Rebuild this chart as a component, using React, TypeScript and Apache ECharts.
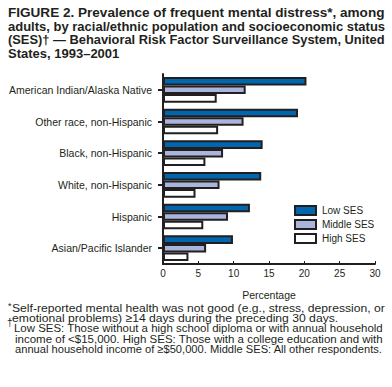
import React, { useEffect, useRef } from "react";
import * as echarts from "echarts";

const categories = [
  "American Indian/Alaska Native",
  "Other race, non-Hispanic",
  "Black, non-Hispanic",
  "White, non-Hispanic",
  "Hispanic",
  "Asian/Pacific Islander",
];
const lowSES = [20.3, 19.1, 14.1, 13.9, 12.3, 9.9];
const middleSES = [11.7, 11.4, 8.5, 8.0, 9.2, 6.1];
const highSES = [7.6, 7.8, 6.0, 4.6, 5.7, 3.6];
const seriesNames = ["Low SES", "Middle SES", "High SES"];
const xTicks = [0, 5, 10, 15, 20, 25, 30];

const titleLines = [
  "FIGURE 2. Prevalence of frequent mental distress*, among",
  "adults, by racial/ethnic population and socioeconomic status",
  "(SES)\u2020 \u2014 Behavioral Risk Factor Surveillance System, United",
  "States, 1993\u20132001",
];
const footLines = [
  "Self-reported mental health was not good (e.g., stress, depression, or",
  "emotional problems) \u226514 days during the preceding 30 days.",
  "Low SES: Those without a high school diploma or with annual household",
  "income of <$15,000. High SES: Those with a college education and with",
  "annual household income of \u2265$50,000. Middle SES: All other respondents.",
];

const INK = "#231f20";
const FONT = "'Liberation Sans', Arial, Helvetica, sans-serif";

function measure(text: string, font: string): number {
  const c = document.createElement("canvas").getContext("2d");
  if (!c) return text.length * 6;
  c.font = font;
  return c.measureText(text).width;
}

function lineEl(
  text: string,
  x: number,
  y: number,
  size: number,
  weight: string,
  target: number | null
) {
  const font = `${weight} ${size}px ${FONT}`;
  const w = measure(text, font);
  const sx = target ? target / w : 1;
  return {
    type: "text",
    x,
    y,
    scaleX: sx,
    style: {
      text,
      x: 0,
      y: 0,
      fill: INK,
      font,
      textVerticalAlign: "middle",
      textAlign: "left",
    },
  };
}

export default function App() {
  const ref = useRef<HTMLDivElement>(null);
  useEffect(() => {
    if (!ref.current) return;
    const chart = echarts.init(ref.current, null, { renderer: "svg" });
    const titleY = [12.5, 26, 39.5, 53];
    const graphics: any[] = [];
    titleLines.forEach((t, i) => {
      graphics.push(lineEl(t, 8, titleY[i], 13, "bold", i < 3 ? 377 : null));
    });
    const footY = [308.5, 318, 328, 338.5, 349];
    const footX = [12, 12, 14, 15, 15];
    const footW = [373, 0, 369, 368, 368];
    footLines.forEach((t, i) => {
      const size = 11.5;
      let target: number | null = footW[i] || null;
      if (i === 1) {
        // last line of paragraph: same horizontal compression as line 1
        const f = `normal ${size}px ${FONT}`;
        target = measure(t, f) * (373 / measure(footLines[0], f));
      }
      graphics.push(lineEl(t, footX[i], footY[i], size, "normal", target));
    });
    graphics.push({
      type: "text",
      x: 8,
      y: 306,
      style: { text: "*", fill: INK, font: `normal 9px ${FONT}`, textVerticalAlign: "middle" },
    });
    graphics.push({
      type: "text",
      x: 7,
      y: 322,
      style: { text: "\u2020", fill: INK, font: `normal 10px ${FONT}`, textVerticalAlign: "middle" },
    });

    const mk = (name: string, data: number[], color: string) => ({
      name,
      type: "bar",
      data,
      barGap: "0%",
      barCategoryGap: "19%",
      itemStyle: { color, borderColor: INK, borderWidth: 2 },
    });

    chart.setOption({
      animation: false,
      grid: { left: 163, right: 17, top: 74, bottom: 123, containLabel: false },
      legend: {
        orient: "vertical",
        left: 294,
        top: 205,
        padding: 0,
        itemWidth: 21,
        itemHeight: 9,
        itemGap: 3,
        icon: "rect",
        data: seriesNames,
        itemStyle: { borderColor: INK, borderWidth: 2 },
        textStyle: { fontFamily: FONT, fontSize: 10, color: INK, lineHeight: 9, padding: [0, 0, 0, 1] },
      },
      xAxis: {
        type: "value",
        min: xTicks[0],
        max: xTicks[xTicks.length - 1],
        interval: 5,
        name: "Percentage",
        nameLocation: "middle",
        nameGap: 25,
        nameTextStyle: { fontFamily: FONT, fontSize: 10.5, color: INK },
        axisLine: { show: true, lineStyle: { color: INK, width: 2 } },
        axisTick: { show: true, inside: true, length: 3, lineStyle: { color: INK, width: 1 } },
        axisLabel: { fontFamily: FONT, fontSize: 10, color: INK, margin: 4 },
        splitLine: { show: false },
      },
      yAxis: {
        type: "category",
        data: categories,
        inverse: true,
        axisLine: { show: true, lineStyle: { color: INK, width: 2 } },
        axisTick: { show: true, alignWithLabel: true, length: 5, lineStyle: { color: INK, width: 2 } },
        axisLabel: { fontFamily: FONT, fontSize: 10.5, color: INK, margin: 11 },
      },
      series: [
        mk(seriesNames[0], lowSES, "#0066ae"),
        mk(seriesNames[1], middleSES, "#aab5dc"),
        mk(seriesNames[2], highSES, "#ffffff"),
      ],
      graphic: graphics,
    });
    return () => chart.dispose();
  }, []);
  return <div ref={ref} style={{ width: 392, height: 387, position: "absolute", left: 0, top: 0 }} />;
}
